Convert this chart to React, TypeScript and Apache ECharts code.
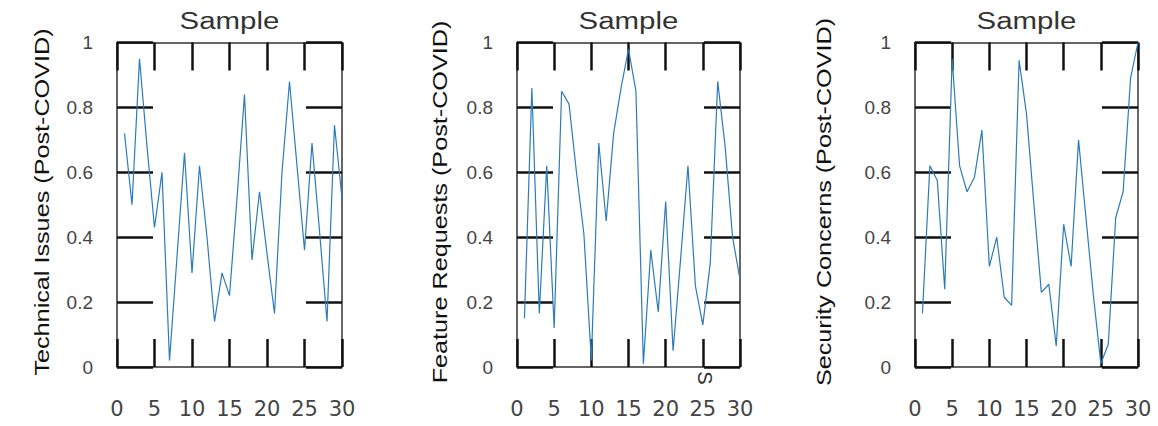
import React, { useEffect, useRef } from "react";
import * as echarts from "echarts";

const days = [1, 2, 3, 4, 5, 6, 7, 8, 9, 10, 11, 12, 13, 14, 15, 16, 17, 18, 19, 20, 21, 22, 23, 24, 25, 26, 27, 28, 29, 30];

const technicalIssues = [0.72, 0.5, 0.95, 0.68, 0.43, 0.6, 0.02, 0.34, 0.66, 0.29, 0.62, 0.4, 0.14, 0.29, 0.22, 0.52, 0.84, 0.33, 0.54, 0.35, 0.165, 0.6, 0.88, 0.62, 0.36, 0.69, 0.42, 0.14, 0.745, 0.52];
const featureRequests = [0.15, 0.86, 0.165, 0.62, 0.12, 0.85, 0.81, 0.6, 0.41, 0.02, 0.69, 0.45, 0.72, 0.86, 0.98, 0.85, 0.01, 0.36, 0.17, 0.51, 0.05, 0.33, 0.62, 0.25, 0.13, 0.32, 0.88, 0.68, 0.4, 0.27];
const securityConcerns = [0.165, 0.62, 0.575, 0.24, 0.95, 0.62, 0.54, 0.585, 0.73, 0.31, 0.4, 0.215, 0.19, 0.945, 0.78, 0.5, 0.23, 0.255, 0.065, 0.44, 0.31, 0.7, 0.46, 0.22, 0.01, 0.07, 0.46, 0.54, 0.89, 1.0];

const panelTitles = ["Sample", "Sample", "Sample"];
const axisNames = ["Technical Issues (Post-COVID)", "Feature Requests (Post-COVID)", "Security Concerns (Post-COVID)"];
const panelValues = [technicalIssues, featureRequests, securityConcerns];

const gridLefts = [117, 517, 915];
const gridWidths = [225, 223, 223];
const nameX = [42, 440, 824];

export default function App() {
  const ref = useRef<HTMLDivElement>(null);
  useEffect(() => {
    if (!ref.current) return;
    const chart = echarts.init(ref.current, null, { renderer: "svg" });
    const grids: any[] = [];
    const xAxes: any[] = [];
    const yAxes: any[] = [];
    const series: any[] = [];
    const graphics: any[] = [];
    const lineCol = "#333";
    const tickCol = "#111";
    panelValues.forEach((vals, i) => {
      grids.push({ left: gridLefts[i], top: 42.5, width: gridWidths[i], height: 324.5, containLabel: false });
      const xBase = {
        gridIndex: i,
        type: "value",
        min: 0,
        max: 30,
        interval: 5,
        splitLine: { show: false },
        axisLine: { show: true, onZero: false, lineStyle: { color: lineCol, width: 1.5 } },
        axisTick: { show: true, inside: true, length: 28, lineStyle: { color: tickCol, width: 2.5 } },
      };
      xAxes.push({
        ...xBase,
        position: "bottom",
        axisLabel: { margin: 31, fontSize: 21, fontFamily: "DejaVu Sans", color: "#444" },
      });
      xAxes.push({ ...xBase, position: "top", axisLabel: { show: false } });
      const yBase = {
        gridIndex: i,
        type: "value",
        min: 0,
        max: 1,
        interval: 0.2,
        splitLine: { show: false },
        axisLine: { show: true, onZero: false, lineStyle: { color: lineCol, width: 1.5 } },
        axisTick: { show: true, inside: true, length: 36, lineStyle: { color: tickCol, width: 2.5 } },
      };
      yAxes.push({
        ...yBase,
        position: "left",
        axisLabel: {
          margin: 24,
          fontSize: 19,
          fontFamily: "Liberation Sans",
          color: "#444",
          formatter: (v: number) => (v === 0 ? "0" : v === 1 ? "1" : v.toFixed(1)),
        },
      });
      yAxes.push({ ...yBase, position: "right", axisLabel: { show: false } });
      series.push({
        type: "line",
        xAxisIndex: i * 2,
        yAxisIndex: i * 2,
        data: days.map((d, j) => [d, vals[j]]),
        showSymbol: false,
        symbol: "none",
        lineStyle: { color: "#2b7bba", width: 1.2 },
      });
      graphics.push({
        type: "text",
        x: gridLefts[i] + gridWidths[i] / 2,
        y: 21,
        scaleX: 1.28,
        style: {
          text: panelTitles[i],
          fontSize: 23,
          fontFamily: "Liberation Sans",
          fill: "#333",
          textAlign: "center",
          textVerticalAlign: "middle",
        },
      });
      graphics.push({
        type: "text",
        x: nameX[i],
        y: 202,
        rotation: Math.PI / 2,
        scaleX: 1.2,
        style: {
          text: axisNames[i],
          fontSize: 21,
          fontFamily: "Liberation Sans",
          fill: "#111",
          textAlign: "center",
          textVerticalAlign: "middle",
        },
      });
    });
    graphics.push({
      type: "text",
      x: 705,
      y: 378,
      rotation: -Math.PI / 2,
      style: {
        text: "S",
        fontSize: 20,
        fontFamily: "Liberation Sans",
        fill: "#333",
        textAlign: "center",
        textVerticalAlign: "middle",
      },
    });
    chart.setOption({
      animation: false,
      backgroundColor: "#ffffff",
      grid: grids,
      xAxis: xAxes,
      yAxis: yAxes,
      series,
      graphic: graphics,
    });
    return () => chart.dispose();
  }, []);
  return <div ref={ref} style={{ position: "fixed", left: 0, top: 0, width: 1158, height: 426 }} />;
}
